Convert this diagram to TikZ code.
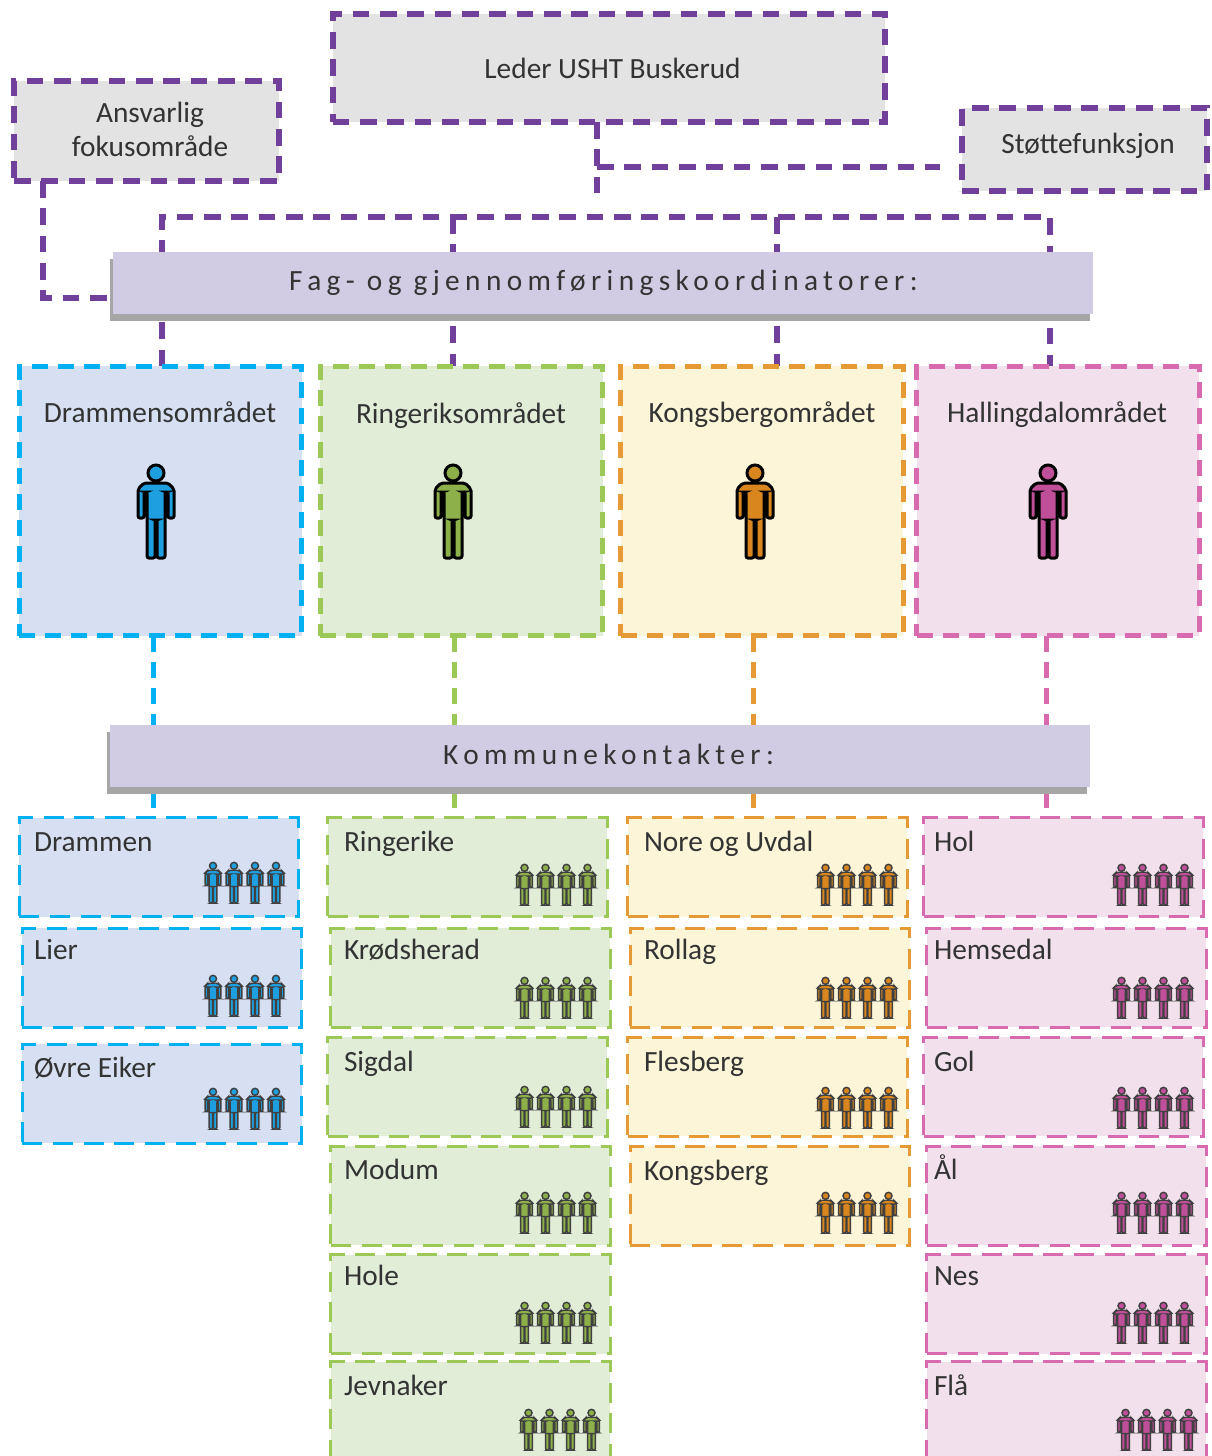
\documentclass[tikz,border=0pt]{standalone}
\usepackage{fontspec}
\setmainfont{Carlito}
\newfontfamily\spacedfont[LetterSpace=18.4]{Carlito}
\usetikzlibrary{backgrounds,shadows}
\definecolor{linepurple}{HTML}{70409A}
\definecolor{lineblue}{HTML}{00B0F0}
\definecolor{linegreen}{HTML}{9BC857}
\definecolor{lineorange}{HTML}{E69A35}
\definecolor{linepink}{HTML}{D86BB0}
\definecolor{fillgray}{HTML}{E3E3E3}
\definecolor{fillblue}{HTML}{D7E0F2}
\definecolor{fillgreen}{HTML}{E2EDD8}
\definecolor{fillorange}{HTML}{FDF5D8}
\definecolor{fillpink}{HTML}{F2E1EC}
\definecolor{fillbar}{HTML}{D1CCE4}
\definecolor{manblue}{HTML}{1E9FE0}
\definecolor{mangreen}{HTML}{8DB04A}
\definecolor{manorange}{HTML}{D9861E}
\definecolor{manpink}{HTML}{C04F9A}
\tikzset{
  x=0.75pt, y=-0.75pt,
  every node/.style={outer sep=0pt, inner sep=0pt, text=black!80, font=\fontsize{22}{25.5}\selectfont},
  topbox/.style={rectangle, draw=linepurple, fill=fillgray, line width=4.5pt, dash pattern=on 12.5pt off 8pt},
  toptext/.style={align=center},
  bar/.style={rectangle, fill=fillbar, minimum width=735pt, minimum height=46.5pt,
    drop shadow={shadow xshift=-2.25pt, shadow yshift=-5.25pt, fill=black!35, opacity=1}},
  bartext/.style={font=\spacedfont\fontsize{22}{25}\selectfont},
  areabox/.style={rectangle, line width=3.75pt, dash pattern=on 12pt off 7.5pt, minimum width=212pt, minimum height=202pt},
  munibox/.style={rectangle, line width=2.25pt, dash pattern=on 15pt off 8pt, minimum width=209.5pt, minimum height=74.25pt},
  blueone/.style={draw=lineblue, fill=fillblue},
  greenone/.style={draw=linegreen, fill=fillgreen},
  orangeone/.style={draw=lineorange, fill=fillorange},
  pinkone/.style={draw=linepink, fill=fillpink},
  areatext/.style={text height=18.5pt, text depth=5pt},
  munitext/.style={anchor=west, text height=18.5pt, text depth=5pt},
  purpleline/.style={draw=linepurple, line width=4.5pt, dash pattern=on 12.5pt off 8pt},
  dropline/.style={line width=3.75pt, dash pattern=on 12pt off 7.5pt},
  person/.pic={
    \draw [fill=#1] (0,-39) circle (8);
    \draw [fill=#1, rounded corners=1.5pt] (-18,-23) -- (-12,-29) -- (12,-29) -- (18,-23) -- (18,6) -- (12,6) -- (12,-20) -- (9,-20) -- (9,46) -- (1,46) -- (1,8) -- (-1,8) -- (-1,46) -- (-9,46) -- (-9,-20) -- (-12,-20) -- (-12,6) -- (-18,6) -- cycle;
  },
  crowd/.pic={
    \pic [scale=0.44, line width=1.1pt, draw=black!75] at (-31.5,0) {person={#1}};
    \pic [scale=0.44, line width=1.1pt, draw=black!75] at (-10.5,0) {person={#1}};
    \pic [scale=0.44, line width=1.1pt, draw=black!75] at (10.5,0) {person={#1}};
    \pic [scale=0.44, line width=1.1pt, draw=black!75] at (31.5,0) {person={#1}};
  }
}
\begin{document}
\begin{tikzpicture}
    \clip (0,0) rectangle (1211,1456);
    % top row
    \node [topbox, minimum width=414pt, minimum height=81pt] (leder) at (608.5,68) {};
    \node [topbox, minimum width=199pt, minimum height=75pt] (ansvarlig) at (146.5,131) {};
    \node [topbox, minimum width=184pt, minimum height=62pt] (stotte) at (1084.5,149.5) {};
    \node [toptext] (ledername) at (612.5,68) {Leder USHT Buskerud};
    \node [toptext] (ansvarligname) at (150,129.5) {Ansvarlig\\fokusområde};
    \node [toptext] (stottename) at (1088,146) {Støttefunksjon};
    \node [bar] (fagbar) at (603,283) {};
    \node [bartext] (fagname) at (603.5,283) {Fag- og gjennomføringskoordinatorer:};
    % areas
    \node [areabox, blueone] (dramarea) at (160.5,501) {};
    \node [areabox, greenone] (ringarea) at (461.5,501) {};
    \node [areabox, orangeone] (kongarea) at (762,501) {};
    \node [areabox, pinkone] (hallarea) at (1058,501) {};
    \node [areatext] (dramname) at (160,413) {Drammensområdet};
    \node [areatext] (ringname) at (461,414) {Ringeriksområdet};
    \node [areatext] (kongname) at (762,413) {Kongsbergområdet};
    \node [areatext] (hallname) at (1057,413) {Hallingdalområdet};
    \pic [line width=2.25pt] at (156,512) {person=manblue};
    \pic [line width=2.25pt] at (453,512) {person=mangreen};
    \pic [line width=2.25pt] at (755,512) {person=manorange};
    \pic [line width=2.25pt] at (1048,512) {person=manpink};
    \node [bar] (kombar) at (600,756) {};
    \node [bartext] (komname) at (608.5,754) {Kommunekontakter:};
    % municipalities
    \node [munibox, blueone] (drammen) at (159,867) {};
    \node [munibox, blueone] (lier) at (162,977.5) {};
    \node [munibox, blueone] (ovre) at (162,1093.5) {};
    \node [munibox, greenone] (ringerike) at (467.5,867) {};
    \node [munibox, greenone] (krod) at (470.5,977.5) {};
    \node [munibox, greenone] (sigdal) at (467.5,1086.5) {};
    \node [munibox, greenone] (modum) at (470.5,1195.5) {};
    \node [munibox, greenone] (hole) at (470.5,1304) {};
    \node [munibox, greenone] (jevnaker) at (470.5,1411) {};
    \node [munibox, orangeone] (nore) at (767.5,867) {};
    \node [munibox, orangeone] (rollag) at (770,977.5) {};
    \node [munibox, orangeone] (flesberg) at (767.5,1086.5) {};
    \node [munibox, orangeone] (kongsberg) at (770,1195.5) {};
    \node [munibox, pinkone] (hol) at (1063.5,867) {};
    \node [munibox, pinkone] (hemsedal) at (1066.5,977.5) {};
    \node [munibox, pinkone] (gol) at (1063.5,1086.5) {};
    \node [munibox, pinkone] (aal) at (1066.5,1195.5) {};
    \node [munibox, pinkone] (nes) at (1066.5,1304) {};
    \node [munibox, pinkone] (flaa) at (1066.5,1411) {};
    \node [munitext] (drammentext) at (34,842) {Drammen};
    \node [munitext] (liertext) at (34,950) {Lier};
    \node [munitext] (ovretext) at (34,1068) {Øvre Eiker};
    \node [munitext] (ringeriketext) at (344,842) {Ringerike};
    \node [munitext] (krodtext) at (344,950) {Krødsherad};
    \node [munitext] (sigdaltext) at (344,1062) {Sigdal};
    \node [munitext] (modumtext) at (344,1170) {Modum};
    \node [munitext] (holetext) at (344,1276) {Hole};
    \node [munitext] (jevnakertext) at (344,1386) {Jevnaker};
    \node [munitext] (noretext) at (644,842) {Nore og Uvdal};
    \node [munitext] (rollagtext) at (644,950) {Rollag};
    \node [munitext] (flesbergtext) at (644,1062) {Flesberg};
    \node [munitext] (kongsbergtext) at (644,1171) {Kongsberg};
    \node [munitext] (holtext) at (934,842) {Hol};
    \node [munitext] (hemsedaltext) at (934,950) {Hemsedal};
    \node [munitext] (goltext) at (934,1062) {Gol};
    \node [munitext] (aaltext) at (934,1170) {Ål};
    \node [munitext] (nestext) at (934,1276) {Nes};
    \node [munitext] (flaatext) at (934,1386) {Flå};
    \pic at (244.5,883) {crowd=manblue};
    \pic at (244.5,996) {crowd=manblue};
    \pic at (244.5,1109) {crowd=manblue};
    \pic at (556,885) {crowd=mangreen};
    \pic at (556,998) {crowd=mangreen};
    \pic at (556,1107) {crowd=mangreen};
    \pic at (556,1213) {crowd=mangreen};
    \pic at (556,1323) {crowd=mangreen};
    \pic at (560,1430) {crowd=mangreen};
    \pic at (857,885) {crowd=manorange};
    \pic at (857,998) {crowd=manorange};
    \pic at (857,1108) {crowd=manorange};
    \pic at (857,1213) {crowd=manorange};
    \pic at (1153,885) {crowd=manpink};
    \pic at (1153,998) {crowd=manpink};
    \pic at (1153,1108) {crowd=manpink};
    \pic at (1153,1213) {crowd=manpink};
    \pic at (1153,1323) {crowd=manpink};
    \pic at (1157,1430) {crowd=manpink};
    % connectors
    \coordinate (trunk) at (597,202);
    \coordinate (branch) at (597,167);
    \coordinate (branchend) at (940,167);
    \coordinate (ansvcorner) at (43,298);
    \coordinate (topdram) at (162,217);
    \coordinate (topring) at (453,217);
    \coordinate (topkong) at (777,217);
    \coordinate (tophall) at (1050,217);
    \coordinate (dropdram) at (153,700);
    \coordinate (dropring) at (454,700);
    \coordinate (dropkong) at (753,700);
    \coordinate (drophall) at (1046,700);
    \begin{pgfonlayer}{background}
        \draw [purpleline] (leder.south -| trunk) -- (trunk);
        \draw [purpleline] (branch) -- (branchend);
        \draw [purpleline] (ansvarlig.south -| ansvcorner) -- (ansvcorner) -- (ansvcorner -| fagbar.west);
        \draw [purpleline] (topdram |- dramarea.north) -- (topdram) -- (topring) -- (topkong) -- (tophall) -- (tophall |- hallarea.north);
        \draw [purpleline] (topring) -- (topring |- ringarea.north);
        \draw [purpleline] (topkong) -- (topkong |- kongarea.north);
        \draw [dropline, draw=lineblue] (dropdram |- dramarea.south) -- (dropdram |- drammen.north);
        \draw [dropline, draw=linegreen] (dropring |- ringarea.south) -- (dropring |- ringerike.north);
        \draw [dropline, draw=lineorange] (dropkong |- kongarea.south) -- (dropkong |- nore.north);
        \draw [dropline, draw=linepink] (drophall |- hallarea.south) -- (drophall |- hol.north);
    \end{pgfonlayer}
\end{tikzpicture}
\end{document}
